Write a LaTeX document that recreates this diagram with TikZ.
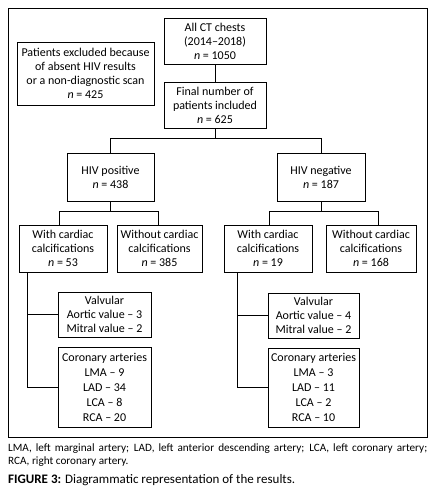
\documentclass[tikz,border=0pt]{standalone}
\usepackage{fontspec}
\setmainfont{Carlito}
\begin{document}
\begin{tikzpicture}[x=1pt,y=-1pt,
  box/.style={draw,line width=0.8pt,align=center,inner sep=0pt,font=\fontsize{12}{14}\selectfont},
  conn/.style={line width=0.8pt}]
\useasboundingbox (0,0) rectangle (437,492);
\draw[line width=0.8pt] (8,8) rectangle (427,437);
\node[box,minimum width=102pt,minimum height=46pt] (allct) at (215,41) {All CT chests\\(2014--2018)\\\textit{n} = 1050};
\node[box,minimum width=137pt,minimum height=63pt] (excl) at (85.5,73.5) {Patients excluded because\\of absent HIV results\\or a non-diagnostic scan\\\textit{n} = 425};
\node[box,minimum width=102pt,minimum height=46pt] (final) at (215,105) {Final number of\\patients included\\\textit{n} = 625};
\node[box,minimum width=87pt,minimum height=48pt] (pos) at (110.5,177) {HIV positive\\\textit{n} = 438};
\node[box,minimum width=88pt,minimum height=48pt] (neg) at (321,177) {HIV negative\\\textit{n} = 187};
\node[box,minimum width=88pt,minimum height=47pt] (wpos) at (63,248.5) {With cardiac\\calcifications\\\textit{n} = 53};
\node[box,minimum width=85pt,minimum height=47pt] (wopos) at (159.5,248.5) {Without cardiac\\calcifications\\\textit{n} = 385};
\node[box,minimum width=88pt,minimum height=47pt] (wneg) at (268,248.5) {With cardiac\\calcifications\\\textit{n} = 19};
\node[box,minimum width=90pt,minimum height=47pt] (woneg) at (371,248.5) {Without cardiac\\calcifications\\\textit{n} = 168};
\node[box,minimum width=93pt,minimum height=45pt] (valpos) at (104.5,314.5) {Valvular\\Aortic value -- 3\\Mitral value -- 2};
\node[box,minimum width=93pt,minimum height=80pt,font=\fontsize{12}{15}\selectfont] (corpos) at (104.5,387) {Coronary arteries\\LMA -- 9\\LAD -- 34\\LCA -- 8\\RCA -- 20};
\node[box,minimum width=91pt,minimum height=45pt] (valneg) at (313.5,315.5) {Valvular\\Aortic value -- 4\\Mitral value -- 2};
\node[box,minimum width=91pt,minimum height=79pt,font=\fontsize{12}{15}\selectfont] (corneg) at (313.5,387.5) {Coronary arteries\\LMA -- 3\\LAD -- 11\\LCA -- 2\\RCA -- 10};
% connectors
\draw[conn] (allct.south) -- (final.north);
\draw[conn] (final.south) -- ++(0,10) coordinate (b1);
\draw[conn] (pos.north) |- (b1) -| (neg.north);
\draw[conn] (pos.south) -- ++(0,10) coordinate (b2);
\draw[conn] (wpos.north -| 59,0) |- (b2) -| (wopos.north -| 158,0);
\draw[conn] (neg.south) -- ++(0,10) coordinate (b3);
\draw[conn] (wneg.north -| 269,0) |- (b3) -| (woneg.north -| 378,0);
\draw[conn] (wpos.south -| 27,0) |- (valpos.west);
\draw[conn] (wpos.south -| 27,0) |- (corpos.west);
\draw[conn] (wneg.south -| 237,0) |- (valneg.west);
\draw[conn] (wneg.south -| 237,0) |- (corneg.west);
% caption
\node[anchor=north west,inner sep=0pt,text width=419pt,align=justify,font=\fontsize{11.2}{13}\selectfont] (cap) at (8,444) {LMA, left marginal artery; LAD, left anterior descending artery; LCA, left coronary artery;\linebreak RCA, right coronary artery.};
\node[anchor=north west,inner sep=0pt,font=\fontsize{13}{15}\selectfont] (fig) at (8,474) {\textbf{FIGURE 3:} Diagrammatic representation of the results.};
\end{tikzpicture}
\end{document}
